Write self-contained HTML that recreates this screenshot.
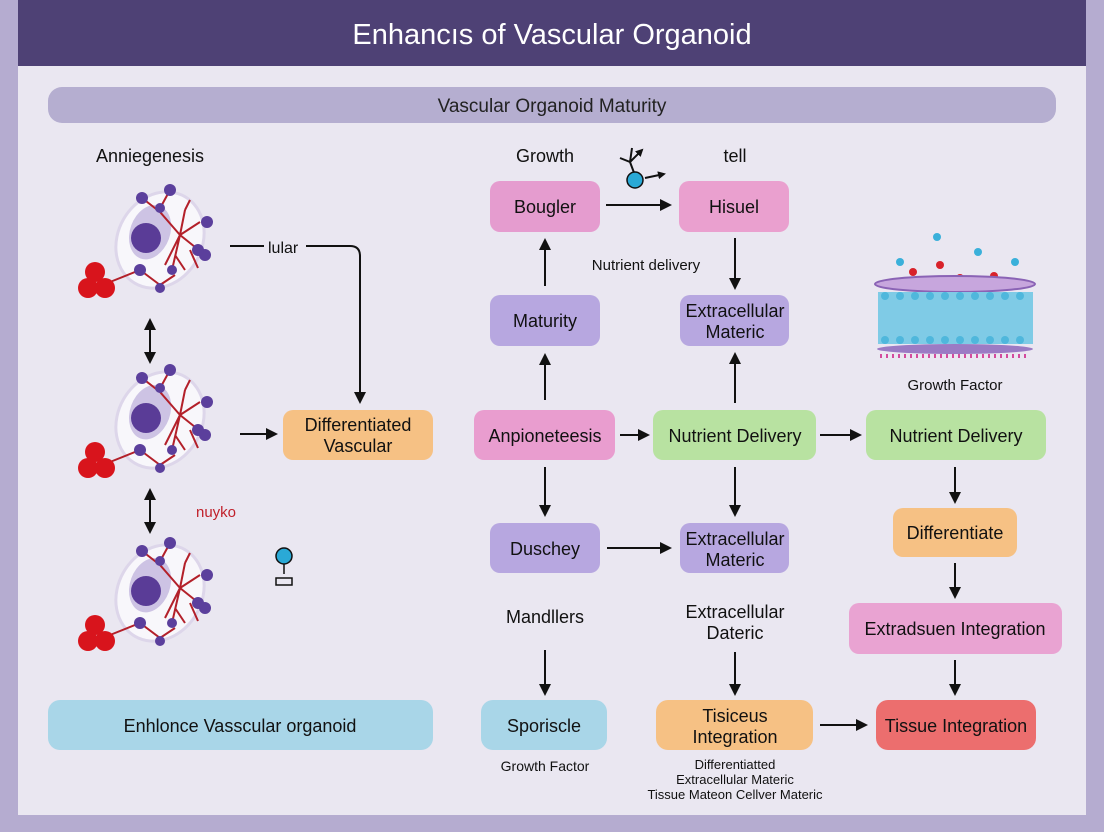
<!DOCTYPE html>
<html><head><meta charset="utf-8"><style>
html,body{margin:0;padding:0;background:#b5acd0;}
svg{display:block;font-family:"Liberation Sans",sans-serif;}
</style></head><body>
<svg width="1104" height="832" viewBox="0 0 1104 832" xmlns="http://www.w3.org/2000/svg">
<defs>
<marker id="a" markerWidth="8" markerHeight="8" refX="6" refY="4" orient="auto" markerUnits="userSpaceOnUse"><path d="M0,0 L8,4 L0,8 z" fill="#111"/></marker>
<marker id="as" markerWidth="12" markerHeight="12" refX="10" refY="6" orient="auto-start-reverse" markerUnits="userSpaceOnUse"><path d="M0,0 L12,6 L0,12 z" fill="#111"/></marker>
<g id="cell">
<ellipse cx="0" cy="0" rx="42" ry="50" transform="rotate(30)" fill="#f8f7fb" stroke="#ddd6ea" stroke-width="3"/>
<ellipse cx="-12" cy="-4" rx="20" ry="28" transform="rotate(20)" fill="#cdc3e4"/>
<circle cx="-14" cy="-2" r="15" fill="#5a3c97"/>
<g stroke="#b3202a" stroke-width="2" fill="none">
<path d="M20,-5 L25,-30 M20,-5 L40,-18 M20,-5 L12,30 M20,-5 L45,15 M20,-5 L5,25 M25,-30 L30,-40 M30,10 L38,28 M15,15 L25,30 M-50,42 L-20,30 L0,45 M0,45 L15,35"/>
<path d="M-18,-42 L0,-28 L20,-5 M-2,-28 L10,-50"/>
</g>
<g fill="#5b3f9c">
<circle cx="-18" cy="-42" r="6"/><circle cx="10" cy="-50" r="6"/><circle cx="0" cy="-32" r="5"/>
<circle cx="47" cy="-18" r="6"/><circle cx="45" cy="15" r="6"/><circle cx="38" cy="10" r="6"/>
<circle cx="12" cy="30" r="5"/><circle cx="-20" cy="30" r="6"/><circle cx="0" cy="48" r="5"/>
</g>
<g fill="#d8141c"><circle cx="-65" cy="32" r="10"/><circle cx="-72" cy="48" r="10"/><circle cx="-55" cy="48" r="10"/></g>
</g>
</defs>
<rect x="0" y="0" width="1104" height="832" fill="#b5acd0"/>
<rect x="18" y="0" width="1068" height="66" fill="#4e4175"/>
<rect x="18" y="66" width="1068" height="749" fill="#eae7f1"/>
<text x="552" y="44" text-anchor="middle" font-size="29" fill="#fff">Enhancıs of Vascular Organoid</text>
<rect x="48" y="87" width="1008" height="36" rx="14" fill="#b5aed0"/>
<text x="552" y="112" text-anchor="middle" font-size="19" fill="#222">Vascular Organoid Maturity</text>

<g font-size="18" fill="#111" text-anchor="middle">
<text x="150" y="162">Anniegenesis</text>
<text x="545" y="162">Growth</text>
<text x="735" y="162">tell</text>
<text x="268" y="253" font-size="16" text-anchor="start">lular</text>
<text x="545" y="623">Mandllers</text>
<text x="735" y="618">Extracellular</text>
<text x="735" y="639">Dateric</text>
<text x="955" y="390" font-size="15">Growth Factor</text>
<text x="646" y="270" font-size="15">Nutrient delivery</text>
<text x="545" y="771" font-size="14">Growth Factor</text>
<text x="735" y="769" font-size="13">Differentiatted</text>
<text x="735" y="784" font-size="13">Extracellular Materic</text>
<text x="735" y="799" font-size="13">Tissue Mateon Cellver Materic</text>
<text x="196" y="517" font-size="15" fill="#c0202a" text-anchor="start">nuyko</text>
</g>

<use href="#cell" x="160" y="240"/>
<use href="#cell" x="160" y="420"/>
<use href="#cell" x="160" y="593"/>

<g stroke="#111" stroke-width="2" fill="none">
<line x1="150" y1="320" x2="150" y2="362" marker-start="url(#as)" marker-end="url(#as)"/>
<line x1="150" y1="490" x2="150" y2="532" marker-start="url(#as)" marker-end="url(#as)"/>
<path d="M230,246 L264,246"/>
<path d="M306,246 L350,246 Q360,246 360,256 L360,402" marker-end="url(#as)"/>
<line x1="240" y1="434" x2="276" y2="434" marker-end="url(#as)"/>
<line x1="545" y1="286" x2="545" y2="240" marker-end="url(#as)"/>
<line x1="545" y1="400" x2="545" y2="355" marker-end="url(#as)"/>
<line x1="545" y1="467" x2="545" y2="515" marker-end="url(#as)"/>
<line x1="545" y1="650" x2="545" y2="694" marker-end="url(#as)"/>
<line x1="606" y1="205" x2="670" y2="205" marker-end="url(#as)"/>
<line x1="735" y1="238" x2="735" y2="288" marker-end="url(#as)"/>
<line x1="735" y1="403" x2="735" y2="354" marker-end="url(#as)"/>
<line x1="735" y1="467" x2="735" y2="515" marker-end="url(#as)"/>
<line x1="735" y1="652" x2="735" y2="694" marker-end="url(#as)"/>
<line x1="620" y1="435" x2="648" y2="435" marker-end="url(#as)"/>
<line x1="820" y1="435" x2="860" y2="435" marker-end="url(#as)"/>
<line x1="607" y1="548" x2="670" y2="548" marker-end="url(#as)"/>
<line x1="955" y1="467" x2="955" y2="502" marker-end="url(#as)"/>
<line x1="955" y1="563" x2="955" y2="597" marker-end="url(#as)"/>
<line x1="955" y1="660" x2="955" y2="694" marker-end="url(#as)"/>
<line x1="820" y1="725" x2="866" y2="725" marker-end="url(#as)"/>
<path d="M636,178 L630,162 L620,158 M630,162 L632,148 M630,162 L642,150" marker-end="url(#a)"/>
<line x1="645" y1="178" x2="664" y2="174" marker-end="url(#a)"/>
</g>
<circle cx="635" cy="180" r="8" fill="#2aa9d6" stroke="#111" stroke-width="1.5"/>
<circle cx="284" cy="556" r="8" fill="#2aa9d6" stroke="#111" stroke-width="1.5"/>
<path d="M284,564 L284,574 M276,578 L292,578 L292,585 L276,585 Z" stroke="#111" stroke-width="1.5" fill="none"/>

<g>
<g fill="#3ab0da"><circle cx="937" cy="237" r="4"/><circle cx="978" cy="252" r="4"/><circle cx="900" cy="262" r="4"/><circle cx="1015" cy="262" r="4"/></g>
<g fill="#d8222a"><circle cx="913" cy="272" r="4"/><circle cx="940" cy="265" r="4"/><circle cx="960" cy="278" r="4"/><circle cx="994" cy="276" r="4"/></g>
<ellipse cx="955" cy="284" rx="80" ry="8" fill="#c7a6dd" stroke="#8a63b5" stroke-width="2"/>
<rect x="878" y="292" width="155" height="52" fill="#7fcbe6"/>
<g fill="#4fb7dc">
<circle cx="885" cy="296" r="4"/><circle cx="900" cy="296" r="4"/><circle cx="915" cy="296" r="4"/><circle cx="930" cy="296" r="4"/><circle cx="945" cy="296" r="4"/><circle cx="960" cy="296" r="4"/><circle cx="975" cy="296" r="4"/><circle cx="990" cy="296" r="4"/><circle cx="1005" cy="296" r="4"/><circle cx="1020" cy="296" r="4"/>
<circle cx="885" cy="340" r="4"/><circle cx="900" cy="340" r="4"/><circle cx="915" cy="340" r="4"/><circle cx="930" cy="340" r="4"/><circle cx="945" cy="340" r="4"/><circle cx="960" cy="340" r="4"/><circle cx="975" cy="340" r="4"/><circle cx="990" cy="340" r="4"/><circle cx="1005" cy="340" r="4"/><circle cx="1020" cy="340" r="4"/>
</g>
<ellipse cx="955" cy="349" rx="78" ry="5" fill="#9b7bc4"/>
<line x1="880" y1="356" x2="1030" y2="356" stroke="#d44b9e" stroke-width="4" stroke-dasharray="2 4"/>
</g>

<g font-size="18" fill="#111" text-anchor="middle">
<rect x="490" y="181" width="110" height="51" rx="10" fill="#e59ccf"/><text x="545" y="213">Bougler</text>
<rect x="679" y="181" width="110" height="51" rx="10" fill="#eaa0cf"/><text x="734" y="213">Hisuel</text>
<rect x="490" y="295" width="110" height="51" rx="10" fill="#b7a7e0"/><text x="545" y="327">Maturity</text>
<rect x="680" y="295" width="109" height="51" rx="10" fill="#b7a7e0"/><text x="735" y="317">Extracellular</text><text x="735" y="338">Materic</text>
<rect x="283" y="410" width="150" height="50" rx="10" fill="#f6c184"/><text x="358" y="431">Differentiated</text><text x="358" y="452">Vascular</text>
<rect x="474" y="410" width="141" height="50" rx="10" fill="#e99dcf"/><text x="545" y="442">Anpioneteesis</text>
<rect x="653" y="410" width="163" height="50" rx="10" fill="#b8e2a1"/><text x="735" y="442">Nutrient Delivery</text>
<rect x="866" y="410" width="180" height="50" rx="10" fill="#b8e2a1"/><text x="956" y="442">Nutrient Delivery</text>
<rect x="490" y="523" width="110" height="50" rx="10" fill="#b7a7e0"/><text x="545" y="555">Duschey</text>
<rect x="680" y="523" width="109" height="50" rx="10" fill="#b7a7e0"/><text x="735" y="545">Extracellular</text><text x="735" y="566">Materic</text>
<rect x="893" y="508" width="124" height="49" rx="10" fill="#f6c184"/><text x="955" y="539">Differentiate</text>
<rect x="849" y="603" width="213" height="51" rx="10" fill="#e9a3d2"/><text x="955" y="635">Extradsuen Integration</text>
<rect x="48" y="700" width="385" height="50" rx="12" fill="#a9d6e8"/><text x="240" y="732">Enhlonce Vasscular organoid</text>
<rect x="481" y="700" width="126" height="50" rx="12" fill="#a9d6e8"/><text x="544" y="732">Sporiscle</text>
<rect x="656" y="700" width="157" height="50" rx="12" fill="#f6c184"/><text x="735" y="722">Tisiceus</text><text x="735" y="743">Integration</text>
<rect x="876" y="700" width="160" height="50" rx="12" fill="#ec6e6e"/><text x="956" y="732">Tissue Integration</text>
</g>
</svg>
</body></html>
